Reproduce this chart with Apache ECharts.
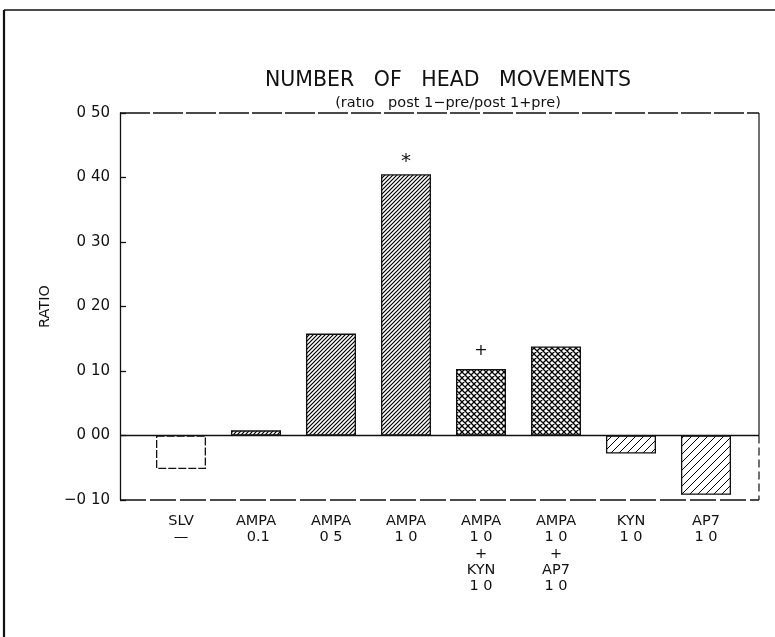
<!DOCTYPE html>
<html>
<head>
<meta charset="utf-8">
<script src="https://cdn.jsdelivr.net/npm/echarts@6/dist/echarts.min.js"></script>
<style>
html,body{margin:0;padding:0;background:#fff;}
#c{width:775px;height:637px;}
</style>
</head>
<body>
<div id="c"></div>
<script>
// ---- data ----
const categories = ['SLV\n—', 'AMPA\n 0.1', 'AMPA\n0 5', 'AMPA\n1 0', 'AMPA\n1 0\n+\nKYN\n1 0', 'AMPA\n1 0\n+\nAP7\n1 0', 'KYN\n1 0', 'AP7\n1 0'];
const ratios = [-0.052, 0.008, 0.158, 0.405, 0.103, 0.138, -0.028, -0.092];
const annotations = ['', '', '', '*', '+', '', '', ''];
const patterns = ['none', 'fine', 'fine', 'fine', 'cross', 'cross', 'sparse', 'sparse'];
const yTickLabels = {'-0.1': '−0 10', '0': '0 00', '0.1': '0 10', '0.2': '0 20', '0.3': '0 30', '0.4': '0 40', '0.5': '0 50'};

function makePattern(kind) {
  if (kind === 'none') return '#ffffff';
  const s = kind === 'fine' ? 4 : (kind === 'cross' ? 6 : 8);
  const c = document.createElement('canvas');
  c.width = s; c.height = s;
  const ctx = c.getContext('2d');
  ctx.fillStyle = '#fff';
  ctx.fillRect(0, 0, s, s);
  ctx.strokeStyle = '#000';
  ctx.lineWidth = kind === 'fine' ? 1.2 : (kind === 'cross' ? 1.3 : 1.0);
  ctx.beginPath();
  ctx.moveTo(-1, s + 1); ctx.lineTo(s + 1, -1);
  ctx.moveTo(-1, 1); ctx.lineTo(1, -1);
  ctx.moveTo(s - 1, s + 1); ctx.lineTo(s + 1, s - 1);
  if (kind === 'cross') {
    ctx.moveTo(-1, -1); ctx.lineTo(s + 1, s + 1);
    ctx.moveTo(s - 1, -1); ctx.lineTo(s + 1, 1);
    ctx.moveTo(-1, s - 1); ctx.lineTo(1, s + 1);
  }
  ctx.stroke();
  return { image: c, repeat: 'repeat' };
}

const chart = echarts.init(document.getElementById('c'), null, { renderer: 'canvas' });
const font = 'DejaVu Sans, Liberation Sans, sans-serif';

const barData = ratios.map((v, i) => ({
  value: v,
  itemStyle: {
    color: makePattern(patterns[i]),
    borderColor: '#111',
    borderWidth: 1.3,
    borderType: patterns[i] === 'none' ? [8, 2] : 'solid'
  },
  label: {
    show: annotations[i] !== '',
    formatter: annotations[i],
    position: 'top',
    distance: annotations[i] === '*' ? 2 : 10,
    fontSize: annotations[i] === '*' ? 20 : 16,
    color: '#111',
    fontFamily: font
  }
}));

chart.setOption({
  animation: false,
  backgroundColor: '#fff',
  title: {
    text: 'NUMBER   OF   HEAD   MOVEMENTS',
    subtext: '(ratıo   post 1−pre/post 1+pre)',
    left: 443, textAlign: 'center', top: 65,
    itemGap: 5,
    textStyle: { fontFamily: font, fontWeight: 'normal', fontSize: 20.5, color: '#111' },
    subtextStyle: { fontFamily: font, fontSize: 14.5, color: '#111' }
  },
  grid: { left: 143.5, right: 31.5, top: 113, bottom: 137 },
  xAxis: {
    type: 'category',
    data: categories,
    axisLine: { show: false },
    axisTick: { show: false },
    axisLabel: {
      interval: 0, margin: 13, lineHeight: 16.3,
      fontFamily: font, fontSize: 14.5, color: '#111'
    }
  },
  yAxis: {
    type: 'value',
    min: -0.1, max: 0.5, interval: 0.1,
    offset: 23.5,
    name: 'RATIO',
    nameLocation: 'middle',
    nameGap: 60,
    nameRotate: 90,
    nameTextStyle: { fontFamily: font, fontSize: 14.5, color: '#111' },
    axisLine: { show: true, lineStyle: { color: '#111', width: 1.3 } },
    axisTick: { show: true, inside: true, length: 6, lineStyle: { color: '#111', width: 1.3 } },
    splitLine: { show: false },
    axisLabel: {
      margin: 10,
      fontFamily: font, fontSize: 15, color: '#111',
      formatter: v => yTickLabels[String(Math.round(v * 10) / 10)] || ''
    }
  },
  series: [{
    type: 'bar',
    data: barData,
    barWidth: 50
  }]
});

const yTop = chart.convertToPixel({ yAxisIndex: 0 }, 0.5);
const yBot = chart.convertToPixel({ yAxisIndex: 0 }, -0.1);
const yZero = chart.convertToPixel({ yAxisIndex: 0 }, 0);
const xL = 120, xR = 759;
chart.setOption({
  graphic: [
    { type: 'line', shape: { x1: xL, y1: yTop, x2: xR, y2: yTop }, style: { stroke: '#111', lineWidth: 1.3, lineDash: [30, 3] }, z: 1 },
    { type: 'line', shape: { x1: xL, y1: yBot, x2: xR, y2: yBot }, style: { stroke: '#111', lineWidth: 1.3, lineDash: [26, 4] }, z: 1 },
    { type: 'line', shape: { x1: xR, y1: yTop, x2: xR, y2: yZero }, style: { stroke: '#111', lineWidth: 1.2 }, z: 1 },
    { type: 'line', shape: { x1: xR, y1: yZero, x2: xR, y2: yBot }, style: { stroke: '#111', lineWidth: 1.2, lineDash: [8, 4] }, z: 1 },
    { type: 'line', shape: { x1: xL, y1: yZero, x2: xR, y2: yZero }, style: { stroke: '#111', lineWidth: 1.3 }, z: 100 },
    { type: 'line', shape: { x1: 4, y1: 10, x2: 775, y2: 10 }, style: { stroke: '#111', lineWidth: 1.6 } },
    { type: 'line', shape: { x1: 4, y1: 10, x2: 4, y2: 637 }, style: { stroke: '#111', lineWidth: 2.2 } }
  ]
});
</script>
</body>
</html>
